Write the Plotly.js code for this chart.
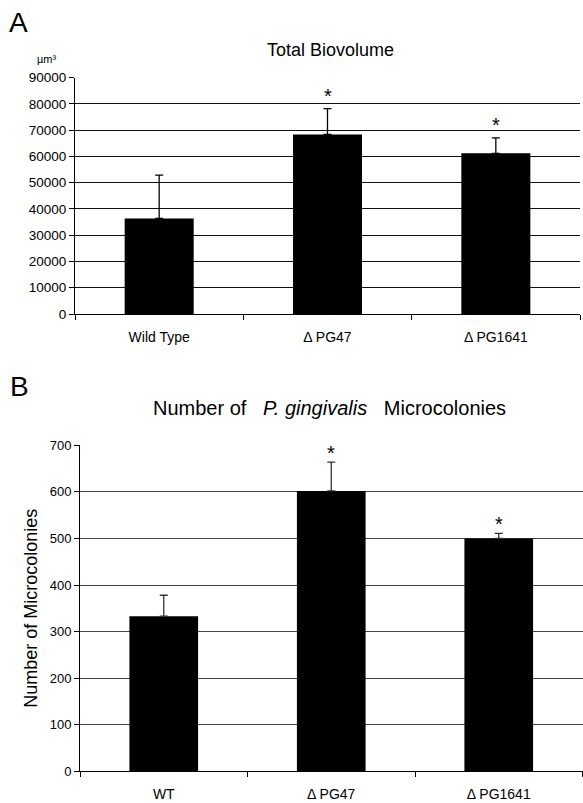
<!DOCTYPE html>
<html>
<head>
<meta charset="utf-8">
<script src="https://cdn.plot.ly/plotly-3.0.1.min.js"></script>
<style>html,body{margin:0;padding:0;background:#fff;}#chart{width:583px;height:803px;}</style>
</head>
<body>
<div id="chart"></div>
<script>
// Panel A: Total Biovolume (µm³)
const catsA = ['Wild Type', '\u0394 PG47', '\u0394 PG1641'];
const valsA = [36400, 68400, 61200];
const errA = [16500, 9800, 5900];
const starA = [false, true, true];
const tickValsA = [0, 10000, 20000, 30000, 40000, 50000, 60000, 70000, 80000, 90000];

// Panel B: Number of P. gingivalis microcolonies
const catsB = ['WT', '\u0394 PG47', '\u0394 PG1641'];
const valsB = [333, 602, 500];
const errB = [45, 62, 11];
const starB = [false, true, true];
const tickValsB = [0, 100, 200, 300, 400, 500, 600, 700];

const FONT = 'Arial, "Liberation Sans", sans-serif';
const W = 583, H = 803;
const px = v => v / W;
const py = v => 1 - v / H;

const traces = [
  {
    type: 'bar', x: catsA, y: valsA, xaxis: 'x', yaxis: 'y',
    marker: {color: '#000', line: {width: 0}},
    error_y: {type: 'data', array: errA, arrayminus: errA.map(() => 0), symmetric: false,
              color: '#000', thickness: 1.3, width: 4},
    hoverinfo: 'none', showlegend: false
  },
  {
    type: 'bar', x: catsB, y: valsB, xaxis: 'x2', yaxis: 'y2',
    marker: {color: '#000', line: {width: 0}},
    error_y: {type: 'data', array: errB, arrayminus: errB.map(() => 0), symmetric: false,
              color: '#333', thickness: 1.3, width: 4},
    hoverinfo: 'none', showlegend: false
  }
];

const annotations = [];
catsA.forEach((c, i) => {
  if (starA[i]) annotations.push({x: c, y: valsA[i] + errA[i], xref: 'x', yref: 'y', text: '*',
    showarrow: false, yshift: 13, font: {family: FONT, size: 20, color: '#000'}});
});
catsB.forEach((c, i) => {
  if (starB[i]) annotations.push({x: c, y: valsB[i] + errB[i], xref: 'x2', yref: 'y2', text: '*',
    showarrow: false, yshift: 9, font: {family: FONT, size: 20, color: '#000'}});
});
annotations.push(
  {x: px(7), y: py(22), xref: 'paper', yref: 'paper', xanchor: 'left', yanchor: 'middle',
   text: 'A', showarrow: false, font: {family: FONT, size: 28, color: '#000'}},
  {x: px(8), y: py(387), xref: 'paper', yref: 'paper', xanchor: 'left', yanchor: 'middle',
   text: 'B', showarrow: false, font: {family: FONT, size: 28, color: '#000'}},
  {x: px(47), y: py(59), xref: 'paper', yref: 'paper', xanchor: 'center', yanchor: 'middle',
   text: '\u00B5m\u00B3', showarrow: false, font: {family: FONT, size: 11, color: '#000'}},
  {x: px(330), y: py(50), xref: 'paper', yref: 'paper', xanchor: 'center', yanchor: 'middle',
   text: 'Total Biovolume', showarrow: false, font: {family: FONT, size: 18, color: '#000'}},
  {x: px(329), y: py(408), xref: 'paper', yref: 'paper', xanchor: 'center', yanchor: 'middle',
   text: 'Number of\u00A0\u00A0 <i>P. gingivalis</i> \u00A0\u00A0Microcolonies', showarrow: false,
   font: {family: FONT, size: 20, color: '#000'}}
);

const axisX = {
  type: 'category', range: [-0.5, 2.5], showgrid: false, zeroline: false,
  showline: true, linecolor: '#000', linewidth: 1,
  ticks: 'outside', tickson: 'boundaries', ticklen: 5, tickcolor: '#000', tickwidth: 1,
  ticklabelstandoff: 10,
  tickfont: {family: FONT, size: 14, color: '#000'}, fixedrange: true
};

const layout = {
  width: W, height: H,
  margin: {l: 0, r: 0, t: 0, b: 0},
  paper_bgcolor: '#fff', plot_bgcolor: '#fff',
  bargap: 0.59,
  showlegend: false,
  xaxis: Object.assign({}, axisX, {domain: [px(75), px(580)], anchor: 'y'}),
  yaxis: {
    domain: [py(314), py(77.7)], anchor: 'x', range: [0, 90000],
    tickvals: tickValsA, ticktext: tickValsA.map(String),
    showgrid: true, gridcolor: '#111', gridwidth: 1, zeroline: false,
    showline: true, linecolor: '#000', linewidth: 1,
    ticks: 'outside', ticklen: 5, tickcolor: '#000',
    tickfont: {family: FONT, size: 13.5, color: '#000'}, fixedrange: true
  },
  xaxis2: Object.assign({}, axisX, {domain: [px(80), px(582.5)], anchor: 'y2'}),
  yaxis2: {
    domain: [py(771.3), py(445.3)], anchor: 'x2', range: [0, 700],
    tickvals: tickValsB, ticktext: tickValsB.map(String),
    showgrid: true, gridcolor: '#444', gridwidth: 1, zeroline: false,
    showline: true, linecolor: '#000', linewidth: 1,
    ticks: 'outside', ticklen: 5, tickcolor: '#000',
    tickfont: {family: FONT, size: 13, color: '#000'}, fixedrange: true,
    title: {text: 'Number of Microcolonies', font: {family: FONT, size: 18, color: '#000'}, standoff: 7}
  },
  annotations: annotations
};

Plotly.newPlot('chart', traces, layout, {displayModeBar: false, staticPlot: true});
</script>
</body>
</html>
